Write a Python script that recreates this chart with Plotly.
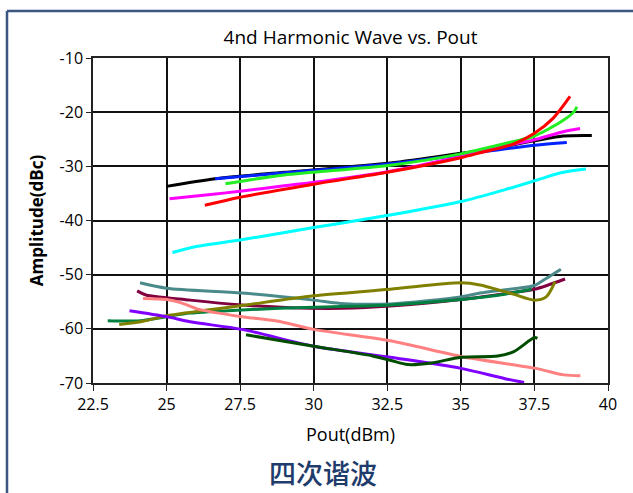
import plotly.graph_objects as go

# power out (dBm) vs 4th harmonic amplitude (dBc)
black_x = [25.0, 26.65, 29.0, 32.6, 35.0, 35.65, 37.5, 38.48, 39.45]
black_y = [-33.7, -32.3, -31.1, -29.4, -27.6, -27.1, -25.3, -24.4, -24.3]

blue_x = [26.65, 29.0, 32.6, 35.0, 35.65, 37.5, 38.6]
blue_y = [-32.3, -31.2, -29.5, -27.9, -27.4, -26.1, -25.6]

magenta_x = [25.1, 26.5, 27.5, 29.0, 30.5, 32.6, 35.0, 36.8, 37.57, 38.48, 39.05]
magenta_y = [-36.0, -35.2, -34.6, -33.6, -32.6, -30.9, -28.2, -25.9, -25.0, -23.6, -23.0]

green_x = [27.0, 29.0, 32.6, 35.0, 35.65, 36.8, 37.5, 38.48, 38.85, 38.94]
green_y = [-33.2, -31.6, -29.8, -27.7, -26.9, -25.4, -24.4, -21.5, -19.9, -19.0]

red_x = [26.3, 27.5, 30.0, 32.6, 35.0, 35.65, 36.78, 37.5, 38.14, 38.71]
red_y = [-37.2, -35.7, -33.3, -31.0, -28.4, -27.5, -25.9, -23.9, -21.1, -17.1]

cyan_x = [25.2, 26.0, 27.5, 30.0, 32.6, 35.0, 36.5, 37.55, 38.4, 39.25]
cyan_y = [-45.9, -44.8, -43.6, -41.3, -39.0, -36.5, -34.3, -32.6, -31.2, -30.5]

teal_x = [24.1, 25.0, 27.56, 30.0, 30.9, 32.6, 35.0, 35.65, 36.8, 37.5, 37.9, 38.4]
teal_y = [-51.5, -52.5, -53.4, -54.7, -55.3, -55.4, -54.1, -53.4, -52.6, -52.0, -50.7, -49.0]

maroon_x = [24.0, 24.3, 25.8, 27.56, 29.2, 31.0, 32.6, 35.0, 36.5, 37.5, 38.54]
maroon_y = [-53.0, -53.75, -54.7, -55.6, -56.1, -56.2, -55.8, -54.6, -53.5, -52.7, -50.8]

sea_x = [23.0, 24.1, 25.0, 25.8, 27.56, 30.0, 32.6, 35.0, 35.65, 36.5, 37.4]
sea_y = [-58.5, -58.5, -57.75, -57.1, -56.5, -56.0, -55.6, -54.6, -54.2, -53.6, -52.7]

olive_x = [23.39, 24.2, 25.0, 27.56, 30.0, 32.6, 35.0, 35.65, 36.78, 37.5, 37.9, 38.2]
olive_y = [-59.2, -58.6, -57.6, -55.7, -53.9, -52.7, -51.5, -51.9, -53.6, -54.7, -54.1, -51.3]

salmon_x = [24.2, 25.0, 25.5, 26.1, 27.56, 28.75, 30.0, 32.6, 35.0, 37.55, 38.5, 39.06]
salmon_y = [-54.4, -54.6, -55.2, -56.4, -57.75, -58.55, -60.1, -62.2, -65.1, -67.3, -68.5, -68.65]

purple_x = [23.74, 25.0, 25.8, 27.56, 30.0, 32.6, 35.0, 36.5, 37.15]
purple_y = [-56.65, -57.75, -58.7, -60.1, -63.2, -65.25, -67.3, -69.2, -69.9]

dkgreen_x = [27.7, 30.0, 32.0, 32.6, 33.2, 34.0, 35.0, 36.25, 36.8, 37.5, 37.6]
dkgreen_y = [-61.1, -63.2, -65.0, -65.8, -66.6, -66.3, -65.25, -65.0, -64.2, -61.6, -61.75]

x_ticks = [22.5, 25, 27.5, 30, 32.5, 35, 37.5, 40]
x_labels = ['22.5', '25', '27.5', '30', '32.5', '35', '37.5', '40']
y_ticks = [-70, -60, -50, -40, -30, -20, -10]
y_labels = ['-70', '-60', '-50', '-40', '-30', '-20', '-10']

series = [
    (black_x, black_y, '#000000'),
    (blue_x, blue_y, '#0022ff'),
    (magenta_x, magenta_y, '#ff00ff'),
    (green_x, green_y, '#22ee22'),
    (cyan_x, cyan_y, '#00ffff'),
    (red_x, red_y, '#ff0000'),
    (teal_x, teal_y, '#4a8a8a'),
    (maroon_x, maroon_y, '#800040'),
    (sea_x, sea_y, '#008040'),
    (olive_x, olive_y, '#808000'),
    (salmon_x, salmon_y, '#ff8080'),
    (purple_x, purple_y, '#8000ff'),
    (dkgreen_x, dkgreen_y, '#004d00'),
]

fig = go.Figure()
for xs, ys, col in series:
    fig.add_trace(go.Scatter(x=xs, y=ys, mode='lines',
                             line=dict(color=col, width=3, shape='spline', smoothing=0.8),
                             showlegend=False, hoverinfo='skip'))

font = "Open Sans, DejaVu Sans, sans-serif"
fig.update_layout(
    width=633, height=493,
    margin=dict(l=93, r=25, t=58, b=110),
    paper_bgcolor='white', plot_bgcolor='white',
    font=dict(family=font, size=16, color='black'),
    title=dict(text='4nd Harmonic Wave vs. Pout', x=0.5, xref='paper',
               y=1 - 37 / 493, yanchor='middle', font=dict(size=19, color='black')),
)
fig.update_xaxes(range=[22.5, 40], tickvals=x_ticks, ticktext=x_labels,
                 showgrid=True, gridcolor='#111111', gridwidth=1.5,
                 showline=True, linecolor='#222222', linewidth=1.5, mirror=True,
                 ticks='outside', ticklen=6, tickcolor='#222222',
                 zeroline=False, title=dict(text='Pout(dBm)', standoff=14,
                                            font=dict(size=18)))
fig.update_yaxes(range=[-70, -10], tickvals=y_ticks, ticktext=y_labels,
                 showgrid=True, gridcolor='#111111', gridwidth=1.5,
                 showline=True, linecolor='#222222', linewidth=1.5, mirror=True,
                 ticks='outside', ticklen=5, tickcolor='#222222',
                 zeroline=False,
                 title=dict(text='<b>Amplitude(dBc)</b>', standoff=12,
                            font=dict(size=17)))

# frame around the picture (only top and left edges visible)
left_p = (7 - 93) / 515
top_p = (383 - 11) / 325
fig.add_shape(type='line', xref='paper', yref='paper', x0=left_p, x1=1.2,
              y0=top_p, y1=top_p, line=dict(color='#3b5680', width=2.5))
fig.add_shape(type='line', xref='paper', yref='paper', x0=left_p, x1=left_p,
              y0=top_p, y1=-0.5, line=dict(color='#3b5680', width=2.5))

fig.add_annotation(text='四次谐波', xref='paper', yref='paper',
                   x=(323 - 93) / 515, y=(383 - 472) / 325, showarrow=False,
                   xanchor='center', yanchor='middle',
                   font=dict(family='Noto Sans CJK SC', size=27, color='#1f3c6c', weight=500))

fig.write_html("out.html", config={'displayModeBar': False},
               post_script="document.body.style.margin='0px';")
